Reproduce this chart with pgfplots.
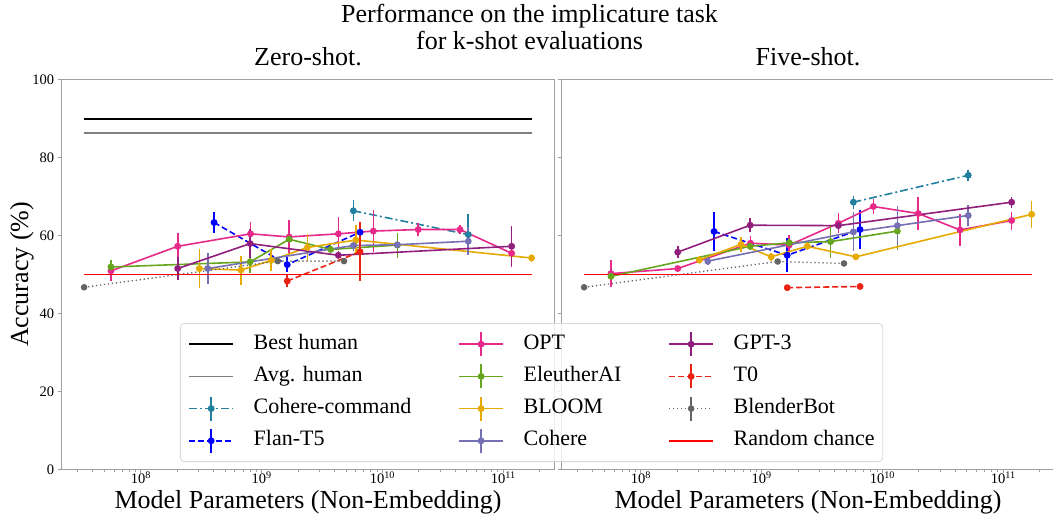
\documentclass[border=0pt]{standalone}
\usepackage{fontspec}
\setmainfont{Liberation Serif}
\usepackage{pgfplots}
\pgfplotsset{compat=1.18}

\definecolor{ccol}{RGB}{33,128,160}
\definecolor{flan}{RGB}{0,0,255}
\definecolor{opt}{RGB}{231,41,138}
\definecolor{eleu}{RGB}{102,166,30}
\definecolor{bloom}{RGB}{230,171,2}
\definecolor{coh}{RGB}{117,112,179}
\definecolor{gpt}{RGB}{145,30,125}
\definecolor{tzero}{RGB}{235,35,20}
\definecolor{bb}{RGB}{100,100,100}
\definecolor{avgh}{RGB}{128,128,128}

\pgfplotsset{
  eb/.style={error bars/y dir=both, error bars/y explicit, error bars/error mark=none,
    error bars/error bar style={line width=1.6pt, solid}},
  ln/.style={color=#1, line width=1.6pt, mark=*, mark size=2.6pt, mark options={solid, fill=#1}},
  sOPT/.style={ln=opt},
  sEL/.style={ln=eleu},
  sBL/.style={ln=bloom},
  sCO/.style={ln=coh},
  sGPT/.style={ln=gpt},
  sCC/.style={ln=ccol, dash pattern=on 8pt off 3pt on 2pt off 3pt},
  sFL/.style={ln=flan, dash pattern=on 6pt off 3pt},
  sT0/.style={ln=tzero, dash pattern=on 6pt off 3pt},
  sBB/.style={ln=bb, line width=1.3pt, dash pattern=on 1.3pt off 2.7pt},
  lineleg/.style={legend image code/.code={\draw[##1] (0pt,0pt) -- (44pt,0pt);}},
  errleg/.style={legend image code/.code={%
      \draw[##1] (0pt,0pt) -- (44pt,0pt);
      \draw[##1, solid] (22pt,-12pt) -- (22pt,12pt);
      \fill[##1, solid, fill opacity=1] (22pt,0pt) circle (2.6pt);}},
}

\begin{document}
\begin{tikzpicture}
\path[use as bounding box] (0pt,0pt) rectangle (1053pt,518pt);
\node[anchor=base, font=\fontsize{26}{30}\selectfont] at (529.5pt,495.3pt) {Performance on the implicature task};
\node[anchor=base, font=\fontsize{26}{30}\selectfont] at (529.5pt,468pt) {for k-shot evaluations};

\begin{axis}[
    xmode=log, scale only axis, width=492.6pt, height=390.2pt,
    at={(61.7pt,48.5pt)}, anchor=south west,
    xmin=2.213e7, xmax=2.65e11, ymin=0, ymax=100,
    ytick={0,20,40,60,80,100},
    xtick={1e8,1e9,1e10,1e11},
    xticklabels={10\textsuperscript{8},10\textsuperscript{9},10\textsuperscript{10},10\textsuperscript{11}},
    minor xtick={3e7,4e7,5e7,6e7,7e7,8e7,9e7,2e8,3e8,4e8,5e8,6e8,7e8,8e8,9e8,2e9,3e9,4e9,5e9,6e9,7e9,8e9,9e9,2e10,3e10,4e10,5e10,6e10,7e10,8e10,9e10,2e11},
    tick align=outside, tick pos=left,
    major tick length=4pt, minor tick length=2.3pt,
    axis line style={draw=gray!75, line width=0.8pt},
    tick style={draw=gray!75, line width=0.7pt},
    tick label style={font=\fontsize{14.5}{16}\selectfont},
    xticklabel style={inner sep=1pt, yshift=3pt},
    yticklabel style={/pgf/number format/assume math mode=true},
    title style={at={(0.5,1)}, anchor=base, yshift=7.8pt, font=\fontsize{26}{30}\selectfont},
    label style={font=\fontsize{26}{30}\selectfont},
    xlabel style={at={(0.5,0)}, anchor=base, yshift=-39.5pt, inner sep=0pt},
    xlabel={Model Parameters (Non-Embedding)},
    clip=false,
    title={Zero-shot.}, ylabel={Accuracy (\%)},
    ylabel style={at={(-0.0684,0.5)}, anchor=base, inner sep=0pt}]
\addplot[black, line width=1.6pt, forget plot] coordinates {(3.39e7,89.8) (1.72e11,89.8)};
\addplot[avgh, line width=1.6pt, forget plot] coordinates {(3.39e7,86.2) (1.72e11,86.2)};
\addplot[sCC, eb, forget plot] coordinates {(5.75e9,66.3) +- (0,2.7) (5.14e10,60.2) +- (0,5.3)};
\addplot[sFL, eb, forget plot] coordinates {(4.04e8,63.3) +- (0,2.8) (1.63e9,52.5) +- (0,1.9) (6.53e9,60.8) +- (0,2.6)};
\addplot[sOPT, eb, forget plot] coordinates {(5.66e7,50.9) +- (0,2.6) (2.02e8,57.2) +- (0,3.5) (8.1e8,60.4) +- (0,3.0) (1.69e9,59.6) +- (0,4.4) (4.32e9,60.4) +- (0,4.2) (8.41e9,61.1) +- (0,5.3) (1.98e10,61.5) +- (0,1.7) (4.39e10,61.5) +- (0,1.2) (1.175e11,55.4) +- (0,3.5)};
\addplot[sEL, eb, forget plot] coordinates {(5.66e7,51.9) +- (0,1.9) (8.04e8,53.2) +- (0,2.8) (1.69e9,59.0) +- (0,0.8) (3.73e9,56.4) +- (0,1.1) (1.33e10,57.5) +- (0,3.2)};
\addplot[sBL, eb, forget plot] coordinates {(3.05e8,51.5) +- (0,5.0) (6.75e8,51.1) +- (0,3.7) (1.20e9,53.6) +- (0,2.8) (2.39e9,56.9) +- (0,3.4) (6.03e9,58.8) +- (0,3.8) (1.72e11,54.2) +- (0,1.1)};
\addplot[sCO, eb, forget plot] coordinates {(3.58e8,51.5) +- (0,3.9) (5.75e9,57.4) +- (0,1.5) (1.33e10,57.6) +- (0,1.0) (5.14e10,58.5) +- (0,3.6)};
\addplot[sGPT, eb, forget plot] coordinates {(2.02e8,51.5) +- (0,2.9) (8.04e8,57.9) +- (0,3.8) (4.32e9,54.9) +- (0,1.0) (1.175e11,57.2) +- (0,5.1)};
\addplot[sT0, eb, forget plot] coordinates {(1.63e9,48.3) +- (0,1.5) (6.53e9,55.8) +- (0,7.5)};
\addplot[sBB, eb, forget plot] coordinates {(3.39e7,46.7) +- (0,0.3) (1.36e9,53.4) +- (0,0.3) (4.81e9,53.4) +- (0,0.3)};
\addplot[red, line width=1.6pt, forget plot] coordinates {(3.39e7,50) (1.72e11,50)};
\end{axis}

\begin{axis}[
    xmode=log, scale only axis, width=492.6pt, height=390.2pt,
    at={(561.7pt,48.5pt)}, anchor=south west,
    xmin=2.213e7, xmax=2.65e11, ymin=0, ymax=100,
    ytick={0,20,40,60,80,100}, yticklabels={},
    xtick={1e8,1e9,1e10,1e11},
    xticklabels={10\textsuperscript{8},10\textsuperscript{9},10\textsuperscript{10},10\textsuperscript{11}},
    minor xtick={3e7,4e7,5e7,6e7,7e7,8e7,9e7,2e8,3e8,4e8,5e8,6e8,7e8,8e8,9e8,2e9,3e9,4e9,5e9,6e9,7e9,8e9,9e9,2e10,3e10,4e10,5e10,6e10,7e10,8e10,9e10,2e11},
    tick align=outside, tick pos=left,
    major tick length=4pt, minor tick length=2.3pt,
    axis line style={draw=gray!75, line width=0.8pt},
    tick style={draw=gray!75, line width=0.7pt},
    tick label style={font=\fontsize{14.5}{16}\selectfont},
    xticklabel style={inner sep=1pt, yshift=3pt},
    title style={at={(0.5,1)}, anchor=base, yshift=7.8pt, font=\fontsize{26}{30}\selectfont},
    label style={font=\fontsize{26}{30}\selectfont},
    xlabel style={at={(0.5,0)}, anchor=base, yshift=-39.5pt, inner sep=0pt},
    xlabel={Model Parameters (Non-Embedding)},
    clip=false,
    title={Five-shot.},
    legend columns=3, legend cell align=left,
    legend style={at={(-0.7749,0.3754)}, anchor=north west, draw=gray!30, line width=0.8pt,
      rounded corners=4pt, fill=white, fill opacity=0.8, text opacity=1, draw opacity=1,
      font=\fontsize{22}{26}\selectfont, inner xsep=8pt, inner ysep=8pt, row sep=6.6pt,
      nodes={inner sep=0pt, text height=15pt, text depth=5pt},
      /tikz/every odd column/.append style={column sep=19.7pt},
      /tikz/every even column/.append style={column sep=47pt}}]
\addplot[sCC, eb, forget plot] coordinates {(5.75e9,68.5) +- (0,1.7) (5.14e10,75.4) +- (0,1.4)};
\addplot[sFL, eb, forget plot] coordinates {(4.04e8,61.0) +- (0,5.0) (1.63e9,54.9) +- (0,4.3) (6.53e9,61.5) +- (0,4.9)};
\addplot[sOPT, eb, forget plot] coordinates {(5.66e7,50.2) +- (0,3.4) (2.02e8,51.5) +- (0,0.5) (8.1e8,58.0) +- (0,1.8) (1.69e9,57.5) +- (0,2.6) (4.32e9,63.1) +- (0,2.6) (8.41e9,67.4) +- (0,1.8) (1.98e10,65.6) +- (0,4.2) (4.39e10,61.4) +- (0,4.2) (1.175e11,63.8) +- (0,2.3)};
\addplot[sEL, eb, forget plot] coordinates {(5.66e7,49.5) +- (0,0.8) (8.04e8,57.2) +- (0,1.0) (1.69e9,58.1) +- (0,1.0) (3.73e9,58.4) +- (0,4.1) (1.33e10,61.1) +- (0,4.8)};
\addplot[sBL, eb, forget plot] coordinates {(3.05e8,53.7) +- (0,1.0) (6.75e8,57.7) +- (0,2.0) (1.20e9,54.5) +- (0,1.0) (2.39e9,57.2) +- (0,1.0) (6.03e9,54.5) +- (0,0.8) (1.72e11,65.4) +- (0,3.4)};
\addplot[sCO, eb, forget plot] coordinates {(3.58e8,53.4) +- (0,1.0) (5.75e9,60.9) +- (0,5.0) (1.33e10,62.5) +- (0,4.9) (5.14e10,65.1) +- (0,2.8)};
\addplot[sGPT, eb, forget plot] coordinates {(2.02e8,55.7) +- (0,1.6) (8.04e8,62.6) +- (0,1.8) (4.32e9,62.5) +- (0,1.0) (1.175e11,68.5) +- (0,1.4)};
\addplot[sT0, eb, forget plot] coordinates {(1.63e9,46.6) +- (0,0.3) (6.53e9,46.9) +- (0,0.3)};
\addplot[sBB, eb, forget plot] coordinates {(3.39e7,46.7) +- (0,0.3) (1.36e9,53.3) +- (0,0.3) (4.81e9,52.8) +- (0,0.3)};
\addplot[red, line width=1.6pt, forget plot] coordinates {(3.39e7,50) (1.72e11,50)};

\addlegendimage{black, line width=1.6pt, lineleg}\addlegendentry{Best human}
\addlegendimage{sOPT, errleg}\addlegendentry{OPT}
\addlegendimage{sGPT, errleg}\addlegendentry{GPT-3}
\addlegendimage{avgh, line width=1.6pt, lineleg}\addlegendentry{Avg. human}
\addlegendimage{sEL, errleg}\addlegendentry{EleutherAI}
\addlegendimage{sT0, errleg}\addlegendentry{T0}
\addlegendimage{sCC, errleg}\addlegendentry{Cohere-command}
\addlegendimage{sBL, errleg}\addlegendentry{BLOOM}
\addlegendimage{sBB, errleg}\addlegendentry{BlenderBot}
\addlegendimage{sFL, errleg}\addlegendentry{Flan-T5}
\addlegendimage{sCO, errleg}\addlegendentry{Cohere}
\addlegendimage{red, line width=1.6pt, lineleg}\addlegendentry{Random chance}
\end{axis}
\end{tikzpicture}
\end{document}
